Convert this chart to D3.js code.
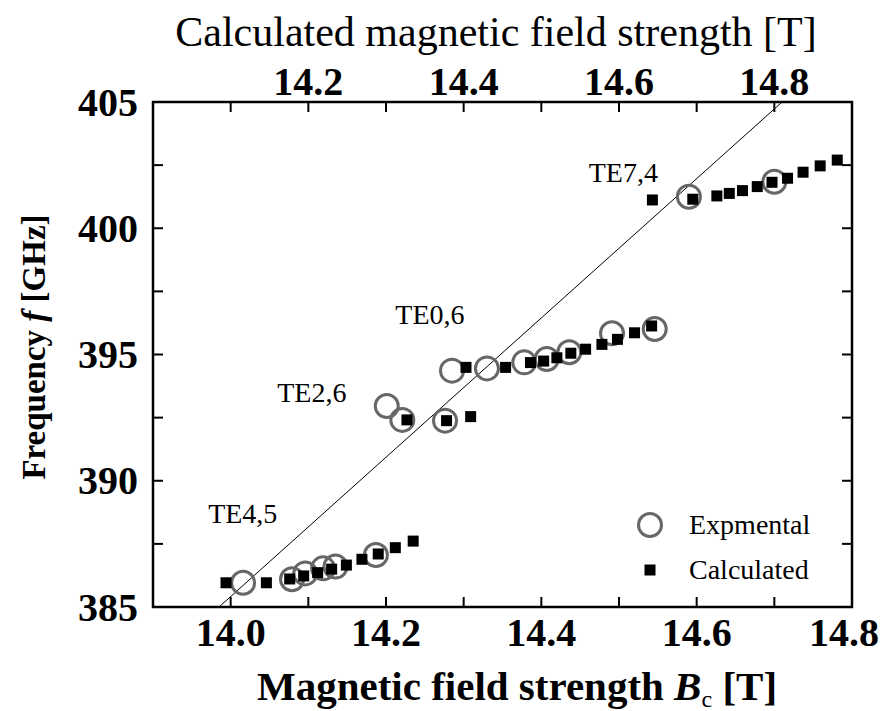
<!DOCTYPE html>
<html>
<head>
<meta charset="utf-8">
<script src="https://cdn.jsdelivr.net/npm/d3@7"></script>
<style>
  body { margin: 0; background: #fff; }
  text { font-family: "Liberation Serif", "Times New Roman", serif; fill: #000; }
</style>
</head>
<body>
<script>
// experimental points (open circles)
var expB = [14.016, 14.079, 14.096, 14.119, 14.135, 14.187,
            14.201, 14.221, 14.276,
            14.285, 14.330, 14.378, 14.407, 14.436, 14.491, 14.546,
            14.590, 14.700];
var expF = [385.96, 386.10, 386.33, 386.53, 386.60, 387.06,
            392.96, 392.41, 392.38,
            394.36, 394.45, 394.69, 394.82, 395.09, 395.84, 396.01,
            401.25, 401.84];

// calculated points (filled squares)
var calcB = [13.994, 14.046, 14.076, 14.094, 14.112, 14.130, 14.149, 14.169, 14.190, 14.212, 14.235,
             14.227, 14.278, 14.309,
             14.303, 14.354, 14.386, 14.403, 14.420, 14.438, 14.457, 14.478, 14.498, 14.520, 14.542,
             14.543, 14.595, 14.626, 14.642, 14.659, 14.678, 14.697, 14.717, 14.737, 14.759, 14.781];
var calcF = [385.96, 385.96, 386.11, 386.23, 386.36, 386.50, 386.66, 386.89, 387.10, 387.35, 387.61,
             392.41, 392.38, 392.54,
             394.49, 394.49, 394.68, 394.74, 394.87, 395.05, 395.21, 395.40, 395.60, 395.86, 396.13,
             401.12, 401.15, 401.28, 401.38, 401.49, 401.65, 401.82, 401.98, 402.22, 402.47, 402.70];

// cyclotron resonance line (two ends)
var lineB = [13.985, 14.71];
var lineF = [385, 405];

// mode labels
var modeNames = ["TE4,5", "TE2,6", "TE0,6", "TE7,4"];
var modeB = [13.971, 14.060, 14.212, 14.461];
var modeF = [388.33, 393.12, 396.21, 401.83];

var bottomTicks = [14.0, 14.1, 14.2, 14.3, 14.4, 14.5, 14.6, 14.7];
var bottomLabels = [14.0, 14.2, 14.4, 14.6, 14.8];
var topTicks = [14.1, 14.2, 14.3, 14.4, 14.5, 14.6, 14.7, 14.8];
var topLabels = [14.2, 14.4, 14.6, 14.8];
var yTicks = [387.5, 390, 392.5, 395, 397.5, 400, 402.5];
var yLabels = [385, 390, 395, 400, 405];

var W = 880, H = 711;
var pL = 153, pR = 852, pT = 102, pB = 607;

var svg = d3.select("body").append("svg")
  .attr("width", W)
  .attr("height", H);

var x = d3.scaleLinear().domain([13.9, 14.8]).range([pL, pR]);
var xTop = d3.scaleLinear().domain([14.0, 14.9]).range([pL, pR]);
var y = d3.scaleLinear().domain([385, 405]).range([pB, pT]);

var tickLen = 10;

// ticks, all pointing inward
var tg = svg.append("g").attr("stroke", "#000").attr("stroke-width", 2);
tg.selectAll(".tb").data(bottomTicks).enter().append("line")
  .attr("x1", function (d) { return x(d); }).attr("x2", function (d) { return x(d); })
  .attr("y1", pB).attr("y2", pB - tickLen);
tg.selectAll(".tt").data(topTicks).enter().append("line")
  .attr("x1", function (d) { return xTop(d); }).attr("x2", function (d) { return xTop(d); })
  .attr("y1", pT).attr("y2", pT + tickLen);
tg.selectAll(".tl").data(yTicks).enter().append("line")
  .attr("x1", pL).attr("x2", pL + tickLen)
  .attr("y1", function (d) { return y(d); }).attr("y2", function (d) { return y(d); });
tg.selectAll(".tr").data(yTicks).enter().append("line")
  .attr("x1", pR).attr("x2", pR - tickLen)
  .attr("y1", function (d) { return y(d); }).attr("y2", function (d) { return y(d); });

// tick labels (last bottom one pulled in so it stays on the page)
svg.append("g").selectAll("text").data(bottomLabels).enter().append("text")
  .attr("x", function (d, i) { return i === bottomLabels.length - 1 ? W - 1 : x(d); })
  .attr("y", 646)
  .attr("text-anchor", function (d, i) { return i === bottomLabels.length - 1 ? "end" : "middle"; })
  .style("font-size", "40px").style("font-weight", "bold")
  .text(function (d) { return d.toFixed(1); });

svg.append("g").selectAll("text").data(topLabels).enter().append("text")
  .attr("x", function (d) { return xTop(d); })
  .attr("y", 95)
  .attr("text-anchor", "middle")
  .style("font-size", "40px").style("font-weight", "bold")
  .text(function (d) { return d.toFixed(1); });

svg.append("g").selectAll("text").data(yLabels).enter().append("text")
  .attr("x", 138)
  .attr("y", function (d) { return y(d); })
  .attr("dy", "0.34em")
  .attr("text-anchor", "end")
  .style("font-size", "40px").style("font-weight", "bold")
  .text(function (d) { return d; });

// axis titles
svg.append("text")
  .attr("x", 496).attr("y", 46)
  .attr("text-anchor", "middle")
  .style("font-size", "42px")
  .text("Calculated magnetic field strength [T]");

var xt = svg.append("text")
  .attr("x", 517).attr("y", 700)
  .attr("text-anchor", "middle")
  .style("font-size", "41px").style("font-weight", "bold");
xt.append("tspan").text("Magnetic field strength ");
xt.append("tspan").style("font-style", "italic").text("B");
xt.append("tspan").attr("dy", 7).style("font-size", "24px").style("font-weight", "normal").text("c");
xt.append("tspan").attr("dy", -7).text(" [T]");

var yt = svg.append("text")
  .attr("transform", "translate(45," + 347 + ") rotate(-90)")
  .attr("text-anchor", "middle")
  .style("font-size", "33px").style("font-weight", "bold");
yt.append("tspan").text("Frequency ");
yt.append("tspan").style("font-style", "italic").text("f");
yt.append("tspan").text(" [GHz]");

// resonance line
svg.append("line")
  .attr("x1", x(lineB[0])).attr("y1", y(lineF[0]))
  .attr("x2", x(lineB[1])).attr("y2", y(lineF[1]))
  .attr("stroke", "#000").attr("stroke-width", 1);

// experimental circles
var cr = 11.5;
svg.append("g").selectAll("circle").data(expB).enter().append("circle")
  .attr("cx", function (d) { return x(d); })
  .attr("cy", function (d, i) { return y(expF[i]); })
  .attr("r", cr)
  .attr("fill", "none")
  .attr("stroke", "#676767")
  .attr("stroke-width", 3);

// calculated squares
var sq = 11;
svg.append("g").selectAll("rect").data(calcB).enter().append("rect")
  .attr("x", function (d) { return x(d) - sq / 2; })
  .attr("y", function (d, i) { return y(calcF[i]) - sq / 2; })
  .attr("width", sq).attr("height", sq)
  .attr("fill", "#000");

// mode labels
svg.append("g").selectAll("text").data(modeNames).enter().append("text")
  .attr("x", function (d, i) { return x(modeB[i]); })
  .attr("y", function (d, i) { return y(modeF[i]); })
  .style("font-size", "28px")
  .text(function (d) { return d; });

// legend
svg.append("circle")
  .attr("cx", 650).attr("cy", 525).attr("r", cr)
  .attr("fill", "none").attr("stroke", "#676767").attr("stroke-width", 3);
svg.append("text").attr("x", 689).attr("y", 534).style("font-size", "28px").text("Expmental");
svg.append("rect")
  .attr("x", 650 - sq / 2).attr("y", 570 - sq / 2).attr("width", sq).attr("height", sq)
  .attr("fill", "#000");
svg.append("text").attr("x", 689).attr("y", 579).style("font-size", "28px").text("Calculated");

// frame
svg.append("rect")
  .attr("x", pL).attr("y", pT)
  .attr("width", pR - pL).attr("height", pB - pT)
  .attr("fill", "none").attr("stroke", "#000").attr("stroke-width", 2.5);
</script>
</body>
</html>
